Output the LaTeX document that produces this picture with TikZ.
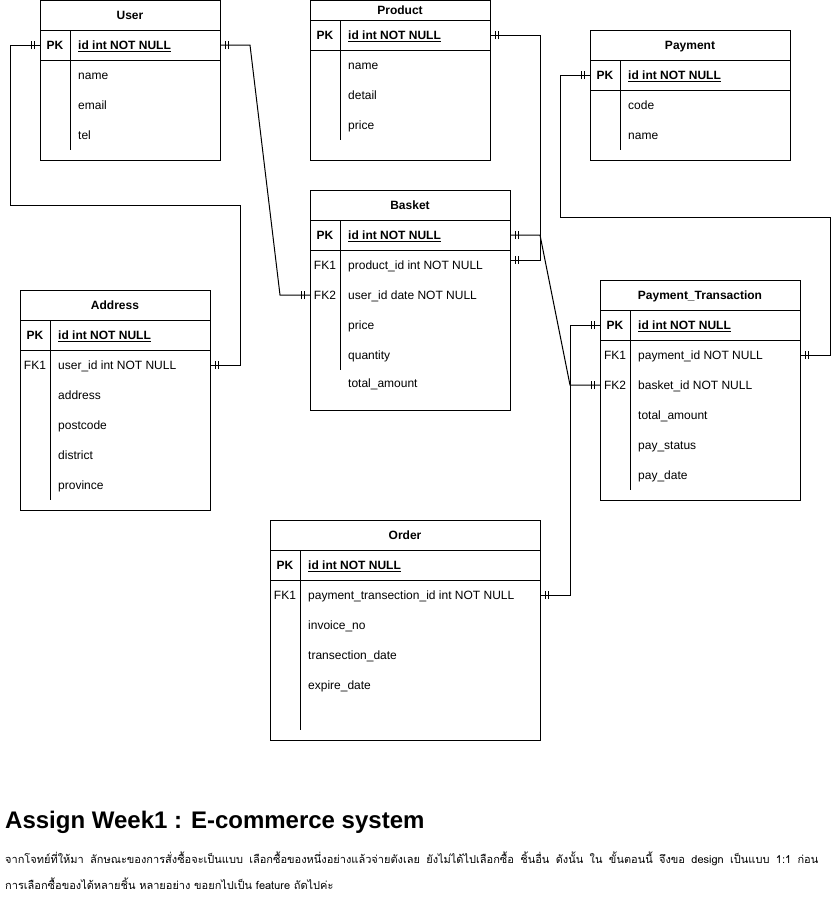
\documentclass[tikz,border=0pt]{standalone}
\usepackage{fontspec}
\setmainfont{Liberation Sans}
\newfontfamily\thaifont[Script=Thai]{Loma}
\usetikzlibrary{decorations.markings}
\tikzset{
  tbl/.style={draw, line width=1pt, anchor=north west, inner sep=0pt, outer sep=0pt},
  rowbox/.style={anchor=north west, inner sep=0pt, outer sep=0pt, minimum height=30pt},
  txt/.style={font=\fontsize{12}{14}\selectfont, inner sep=0pt, text height=11pt, text depth=2pt},
  ttl/.style={txt, font=\fontsize{12}{14}\selectfont\bfseries},
  keyl/.style={txt},
  keyb/.style={txt, font=\fontsize{12}{14}\selectfont\bfseries},
  fld/.style={txt, anchor=west},
  fldpk/.style={fld, font=\fontsize{12}{14}\selectfont\bfseries},
  sepl/.style={line width=1pt},
  tick/.style={line width=1pt},
  rel/.style={line width=1pt, postaction={decorate},
    decoration={markings,
      mark=at position 5.5pt with {\draw[tick] (0,-4pt)--(0,4pt);},
      mark=at position 8.5pt with {\draw[tick] (0,-4pt)--(0,4pt);},
      mark=at position -5.5pt with {\draw[tick] (0,-4pt)--(0,4pt);},
      mark=at position -8.5pt with {\draw[tick] (0,-4pt)--(0,4pt);}}},
}
\begin{document}
\begin{tikzpicture}[x=1pt,y=-1pt]
\useasboundingbox (0,0) rectangle (840,921);

% ---------- User ----------
\node[tbl, minimum width=180pt, minimum height=160pt] (user) at (40,0) {};
\node[rowbox, minimum width=180pt] (u-pk) at (40,30) {};
\draw[sepl] (u-pk.north west) -- (u-pk.north east);
\draw[sepl] (u-pk.south west) -- (u-pk.south east);
\draw[sepl] (70,30) -- (70,150);
\node[ttl] (u-t) at (130,15) {User};
\node[keyb] (u-k1) at (55,45) {PK};
\node[fldpk] (u-f1) at (78,45) {\underline{id int NOT NULL}};
\node[fld] (u-f2) at (78,75) {name};
\node[fld] (u-f3) at (78,105) {email};
\node[fld] (u-f4) at (78,135) {tel};

% ---------- Product ----------
\node[tbl, minimum width=180pt, minimum height=160pt] (product) at (310,0) {};
\node[rowbox, minimum width=180pt] (p-pk) at (310,20) {};
\draw[sepl] (p-pk.north west) -- (p-pk.north east);
\draw[sepl] (p-pk.south west) -- (p-pk.south east);
\draw[sepl] (340,20) -- (340,140);
\node[ttl] (p-t) at (400,10) {Product};
\node[keyb] (p-k1) at (325,35) {PK};
\node[fldpk] (p-f1) at (348,35) {\underline{id int NOT NULL}};
\node[fld] (p-f2) at (348,65) {name};
\node[fld] (p-f3) at (348,95) {detail};
\node[fld] (p-f4) at (348,125) {price};

% ---------- Payment ----------
\node[tbl, minimum width=200pt, minimum height=130pt] (payment) at (590,30) {};
\node[rowbox, minimum width=200pt] (pay-pk) at (590,60) {};
\draw[sepl] (pay-pk.north west) -- (pay-pk.north east);
\draw[sepl] (pay-pk.south west) -- (pay-pk.south east);
\draw[sepl] (620,60) -- (620,150);
\node[ttl] (pay-t) at (690,45) {Payment};
\node[keyb] (pay-k1) at (605,75) {PK};
\node[fldpk] (pay-f1) at (628,75) {\underline{id int NOT NULL}};
\node[fld] (pay-f2) at (628,105) {code};
\node[fld] (pay-f3) at (628,135) {name};

% ---------- Basket ----------
\node[tbl, minimum width=200pt, minimum height=220pt] (basket) at (310,190) {};
\node[rowbox, minimum width=200pt] (b-pk) at (310,220) {};
\node[rowbox, minimum width=200pt] (b-fk1) at (310,250) {};
\node[rowbox, minimum width=200pt] (b-fk2) at (310,280) {};
\draw[sepl] (b-pk.north west) -- (b-pk.north east);
\draw[sepl] (b-pk.south west) -- (b-pk.south east);
\draw[sepl] (340,220) -- (340,370);
\node[ttl] (b-t) at (410,205) {Basket};
\node[keyb] (b-k1) at (325,235) {PK};
\node[keyl] (b-k2) at (325,265) {FK1};
\node[keyl] (b-k3) at (325,295) {FK2};
\node[fldpk] (b-f1) at (348,235) {\underline{id int NOT NULL}};
\node[fld] (b-f2) at (348,265) {product\_id int NOT NULL};
\node[fld] (b-f3) at (348,295) {user\_id date NOT NULL};
\node[fld] (b-f4) at (348,325) {price};
\node[fld] (b-f5) at (348,355) {quantity};
\node[fld] (b-f6) at (348,383) {total\_amount};

% ---------- Address ----------
\node[tbl, minimum width=190pt, minimum height=220pt] (address) at (20,290) {};
\node[rowbox, minimum width=190pt] (a-pk) at (20,320) {};
\node[rowbox, minimum width=190pt] (a-fk1) at (20,350) {};
\draw[sepl] (a-pk.north west) -- (a-pk.north east);
\draw[sepl] (a-pk.south west) -- (a-pk.south east);
\draw[sepl] (50,320) -- (50,500);
\node[ttl] (a-t) at (115,305) {Address};
\node[keyb] (a-k1) at (35,335) {PK};
\node[keyl] (a-k2) at (35,365) {FK1};
\node[fldpk] (a-f1) at (58,335) {\underline{id int NOT NULL}};
\node[fld] (a-f2) at (58,365) {user\_id int NOT NULL};
\node[fld] (a-f3) at (58,395) {address};
\node[fld] (a-f4) at (58,425) {postcode};
\node[fld] (a-f5) at (58,455) {district};
\node[fld] (a-f6) at (58,485) {province};

% ---------- Payment_Transaction ----------
\node[tbl, minimum width=200pt, minimum height=220pt] (ptrans) at (600,280) {};
\node[rowbox, minimum width=200pt] (pt-pk) at (600,310) {};
\node[rowbox, minimum width=200pt] (pt-fk1) at (600,340) {};
\node[rowbox, minimum width=200pt] (pt-fk2) at (600,370) {};
\draw[sepl] (pt-pk.north west) -- (pt-pk.north east);
\draw[sepl] (pt-pk.south west) -- (pt-pk.south east);
\draw[sepl] (630,310) -- (630,490);
\node[ttl] (pt-t) at (700,295) {Payment\_Transaction};
\node[keyb] (pt-k1) at (615,325) {PK};
\node[keyl] (pt-k2) at (615,355) {FK1};
\node[keyl] (pt-k3) at (615,385) {FK2};
\node[fldpk] (pt-f1) at (638,325) {\underline{id int NOT NULL}};
\node[fld] (pt-f2) at (638,355) {payment\_id NOT NULL};
\node[fld] (pt-f3) at (638,385) {basket\_id NOT NULL};
\node[fld] (pt-f4) at (638,415) {total\_amount};
\node[fld] (pt-f5) at (638,445) {pay\_status};
\node[fld] (pt-f6) at (638,475) {pay\_date};

% ---------- Order ----------
\node[tbl, minimum width=270pt, minimum height=220pt] (order) at (270,520) {};
\node[rowbox, minimum width=270pt] (o-pk) at (270,550) {};
\node[rowbox, minimum width=270pt] (o-fk1) at (270,580) {};
\draw[sepl] (o-pk.north west) -- (o-pk.north east);
\draw[sepl] (o-pk.south west) -- (o-pk.south east);
\draw[sepl] (300,550) -- (300,730);
\node[ttl] (o-t) at (405,535) {Order};
\node[keyb] (o-k1) at (285,565) {PK};
\node[keyl] (o-k2) at (285,595) {FK1};
\node[fldpk] (o-f1) at (308,565) {\underline{id int NOT NULL}};
\node[fld] (o-f2) at (308,595) {payment\_transection\_id int NOT NULL};
\node[fld] (o-f3) at (308,625) {invoice\_no};
\node[fld] (o-f4) at (308,655) {transection\_date};
\node[fld] (o-f5) at (308,685) {expire\_date};

% ---------- Relations ----------
\draw[rel] (u-pk.west) -- ++(-30,0) -- ++(0,160) -- ++(230,0) |- (a-fk1.east);
\draw[rel] (u-pk.east) -- ++(30,0) -- ([xshift=-30pt]b-fk2.west) -- (b-fk2.west);
\draw[rel] (p-pk.east) -- ++(50,0) |- ([yshift=5pt]b-fk1.east);
\draw[rel] (b-pk.east) -- ++(30,0) -- ([xshift=-30pt]pt-fk2.west) -- (pt-fk2.west);
\draw[rel] (pt-pk.west) -- ++(-30,0) |- (o-fk1.east);
\draw[rel] (pay-pk.west) -- ++(-30,0) -- ++(0,142) -- ++(270,0) |- (pt-fk1.east);

% ---------- Footer ----------
\node[anchor=base west, inner sep=0pt, font=\fontsize{24}{28}\selectfont\bfseries] (heading) at (5,828) {Assign Week1 : E-commerce system};
\node[anchor=base west, inner sep=0pt, font=\fontsize{11}{13}\selectfont\thaifont] (line1) at (5,863) {\makebox[813pt][s]{จากโจทย์ที่ให้มา ลักษณะของการสั่งซื้อจะเป็นแบบ เลือกซื้อของหนึ่งอย่างแล้วจ่ายตังเลย ยังไม่ได้ไปเลือกซื้อ ชิ้นอื่น ดังนั้น ใน ขั้นตอนนี้ จึงขอ design เป็นแบบ 1:1 ก่อน}};
\node[anchor=base west, inner sep=0pt, font=\fontsize{11}{13}\selectfont\thaifont] (line2) at (5,889) {การเลือกซื้อของได้หลายชิ้น หลายอย่าง ขอยกไปเป็น feature ถัดไปค่ะ};
\end{tikzpicture}
\end{document}
